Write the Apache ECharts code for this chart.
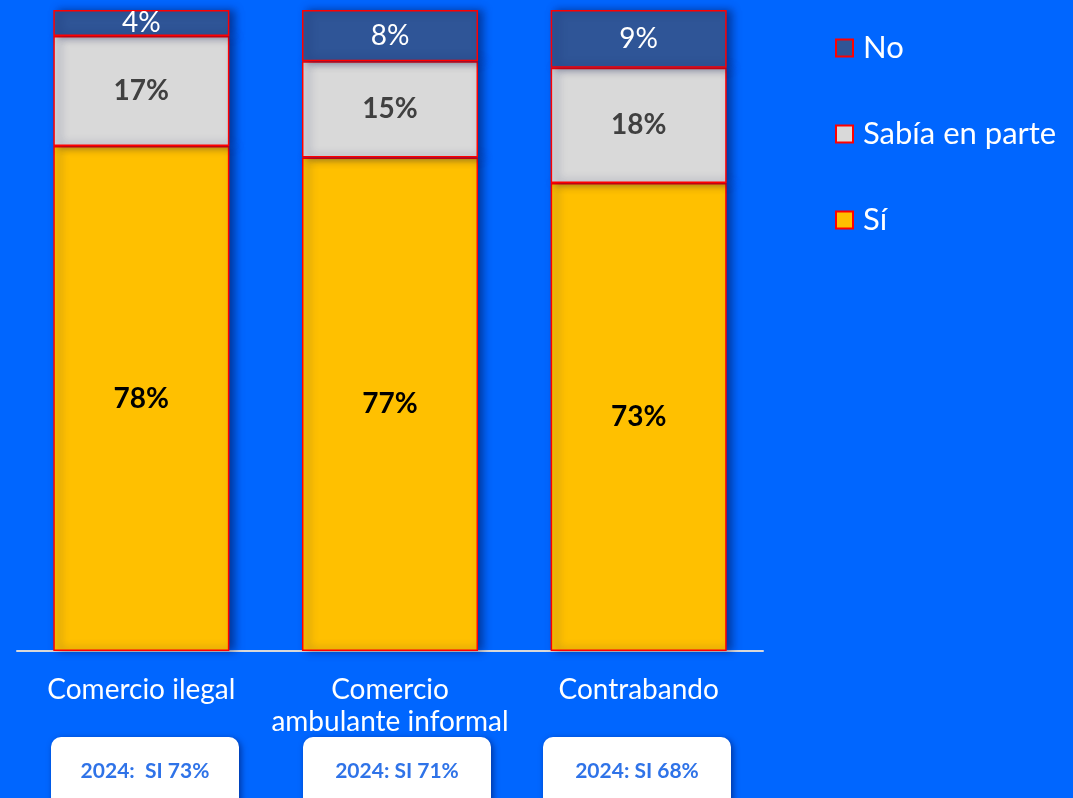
<!DOCTYPE html>
<html>
<head>
<meta charset="utf-8">
<script src="https://cdn.jsdelivr.net/npm/echarts@6/dist/echarts.min.js"></script>
<style>
  html, body { margin: 0; padding: 0; background: #0066ff; }
  #main { width: 1073px; height: 798px; }
</style>
</head>
<body>
<div id="main"></div>
<script>
// datos
var categories = ['Comercio ilegal', 'Comercio\nambulante informal', 'Contrabando'];
var si = [78, 77, 73];
var parte = [17, 15, 18];
var no = [4, 8, 9];
var notas = ['2024:  SI 73%', '2024: SI 71%', '2024: SI 68%'];

var totals = categories.map(function (c, i) { return si[i] + parte[i] + no[i]; });

// 100% apilado, la etiqueta muestra el valor original
function toSeries(arr) {
    return arr.map(function (v, i) {
        return { value: v / totals[i] * 100, raw: v };
    });
}

var myChart = echarts.init(document.getElementById('main'));

var barStyle = function (color) {
    return {
        color: color,
        borderColor: '#ff0000',
        borderWidth: 1.5,
        shadowColor: 'rgba(0, 20, 80, 0.55)',
        shadowBlur: 8,
        shadowOffsetX: 5,
        shadowOffsetY: 0
    };
};

var labelFmt = function (p) { return p.data.raw + '%'; };

option = {
    backgroundColor: '#0066ff',
    animation: false,
    textStyle: { fontFamily: 'Lato' },
    grid: { left: 17, right: 310, top: 10, bottom: 147 },
    legend: {
        orient: 'vertical',
        left: 835,
        top: 31,
        padding: 0,
        icon: 'rect',
        itemWidth: 17,
        itemHeight: 17,
        itemGap: 52,
        data: ['No', 'Sabía en parte', 'Sí'],
        textStyle: { color: '#ffffff', fontSize: 31, lineHeight: 34, padding: [0, 0, 0, 5] }
    },
    xAxis: {
        type: 'category',
        data: categories,
        axisLine: { lineStyle: { color: '#d9d9d9', width: 2 } },
        axisTick: { show: false },
        axisLabel: { color: '#ffffff', fontSize: 28, lineHeight: 32, margin: 23, interval: 0 }
    },
    yAxis: {
        type: 'value',
        min: 0,
        max: 100,
        show: false,
        splitLine: { show: false }
    },
    series: [
        {
            name: 'Sí', type: 'bar', stack: 'a', barWidth: '70.8%',
            data: toSeries(si),
            itemStyle: barStyle('#ffc000'),
            label: { show: true, position: 'inside', formatter: labelFmt, color: '#000000', fontSize: 28, fontWeight: 'bold' }
        },
        {
            name: 'Sabía en parte', type: 'bar', stack: 'a',
            data: toSeries(parte),
            itemStyle: barStyle('#d9d9d9'),
            label: { show: true, position: 'inside', formatter: labelFmt, color: '#404040', fontSize: 28, fontWeight: 'bold' }
        },
        {
            name: 'No', type: 'bar', stack: 'a',
            data: toSeries(no),
            itemStyle: barStyle('#2f5597'),
            label: { show: true, position: 'inside', formatter: labelFmt, color: '#ffffff', fontSize: 28 }
        }
    ],
    graphic: [51, 303, 543].map(function (x, i) {
        return {
            type: 'group',
            left: x,
            top: 737,
            children: [
                {
                    type: 'rect',
                    shape: { x: 0, y: 0, width: 188, height: 80, r: 10 },
                    style: { fill: '#ffffff', shadowColor: 'rgba(0,0,60,0.5)', shadowBlur: 6, shadowOffsetX: 2, shadowOffsetY: 2 }
                },
                {
                    type: 'text',
                    x: 94,
                    y: 34,
                    style: {
                        text: notas[i],
                        fill: '#2f73e8',
                        font: 'bold 21px Lato',
                        align: 'center',
                        verticalAlign: 'middle'
                    }
                }
            ]
        };
    })
};

myChart.setOption(option);
</script>
</body>
</html>
